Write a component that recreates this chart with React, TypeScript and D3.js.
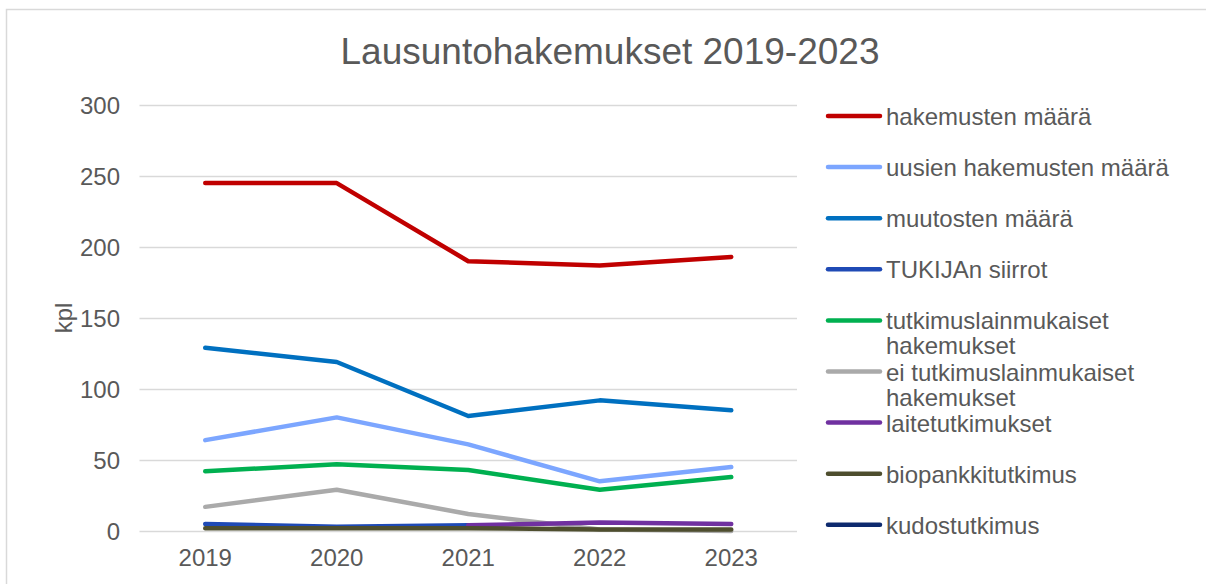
import React, { useEffect, useRef } from 'react';
import * as d3 from 'd3';

const years = ['2019', '2020', '2021', '2022', '2023'];
const yTicks = [0, 50, 100, 150, 200, 250, 300];

const seriesNames = [
  'hakemusten määrä',
  'uusien hakemusten määrä',
  'muutosten määrä',
  'TUKIJAn siirrot',
  'tutkimuslainmukaiset hakemukset',
  'ei tutkimuslainmukaiset hakemukset',
  'laitetutkimukset',
  'biopankkitutkimus',
  'kudostutkimus',
];
const seriesColors = [
  '#c00000', '#7ca6ff', '#0070c0', '#1f4ab5', '#00b050',
  '#aaaaaa', '#7030a0', '#4e4e2e', '#0e2a6e',
];

const hakemukset = [245, 245, 190, 187, 193];
const uudet = [64, 80, 61, 35, 45];
const muutokset = [129, 119, 81, 92, 85];
const tukija: (number | null)[] = [5, 3, 4, null, null];
const lainmukaiset = [42, 47, 43, 29, 38];
const eiLainmukaiset = [17, 29, 12, 1, 0];
const laite: (number | null)[] = [null, null, 4, 6, 5];
const biopankki = [2, 2, 2, 1, 1];
// kudostutkimus line is not visible in the chart
const kudos: (number | null)[] = [null, null, null, null, null];

const seriesValues = [
  hakemukset, uudet, muutokset, tukija, lainmukaiset,
  eiLainmukaiset, laite, biopankki, kudos,
];

const legendLines = [
  ['hakemusten määrä'],
  ['uusien hakemusten määrä'],
  ['muutosten määrä'],
  ['TUKIJAn siirrot'],
  ['tutkimuslainmukaiset', 'hakemukset'],
  ['ei tutkimuslainmukaiset', 'hakemukset'],
  ['laitetutkimukset'],
  ['biopankkitutkimus'],
  ['kudostutkimus'],
];

const W = 1206;
const H = 584;
const FONT = 'Liberation Sans, Arial, sans-serif';
const TEXT = '#595959';

export default function App() {
  const svgRef = useRef<SVGSVGElement>(null);

  useEffect(() => {
    if (!svgRef.current) return;
    const svg = d3.select(svgRef.current);
    svg.selectAll('*').remove();

    svg.append('rect')
      .attr('x', 6.5).attr('y', 9.5)
      .attr('width', W + 20).attr('height', H + 20)
      .attr('fill', '#fff').attr('stroke', '#d9d9d9').attr('stroke-width', 1.5);

    const plot = { left: 139.5, right: 797, top: 105, bottom: 531 };

    const x = d3.scaleBand().domain(years).range([plot.left, plot.right]);
    const y = d3.scaleLinear().domain([0, 300]).range([plot.bottom, plot.top]);

    // title
    svg.append('text')
      .attr('x', 610).attr('y', 64)
      .attr('text-anchor', 'middle')
      .attr('font-family', FONT).attr('font-size', 37)
      .attr('fill', TEXT)
      .text('Lausuntohakemukset 2019-2023');

    // grid
    svg.append('g').selectAll('line')
      .data(yTicks)
      .enter().append('line')
      .attr('x1', plot.left).attr('x2', plot.right)
      .attr('y1', d => Math.round(y(d)) + 0.5).attr('y2', d => Math.round(y(d)) + 0.5)
      .attr('stroke', '#d9d9d9').attr('stroke-width', 1.5);

    // y tick labels
    svg.append('g').selectAll('text')
      .data(yTicks)
      .enter().append('text')
      .attr('x', 120).attr('y', d => y(d) + 9)
      .attr('text-anchor', 'end')
      .attr('font-family', FONT).attr('font-size', 24)
      .attr('fill', TEXT)
      .text(d => d);

    // x tick labels
    svg.append('g').selectAll('text')
      .data(years)
      .enter().append('text')
      .attr('x', d => (x(d) as number) + x.bandwidth() / 2)
      .attr('y', 566)
      .attr('text-anchor', 'middle')
      .attr('font-family', FONT).attr('font-size', 24)
      .attr('fill', TEXT)
      .text(d => d);

    // axis title
    svg.append('text')
      .attr('transform', 'translate(72,318) rotate(-90)')
      .attr('text-anchor', 'middle')
      .attr('font-family', FONT).attr('font-size', 24)
      .attr('fill', TEXT)
      .text('kpl');

    const line = d3.line<number | null>()
      .defined(d => d !== null)
      .x((_, i) => (x(years[i]) as number) + x.bandwidth() / 2)
      .y(d => y(d as number));

    svg.append('g').selectAll('path')
      .data(seriesValues)
      .enter().append('path')
      .attr('d', d => line(d) ?? '')
      .attr('fill', 'none')
      .attr('stroke', (_, i) => seriesColors[i])
      .attr('stroke-width', 4.5)
      .attr('stroke-linejoin', 'round')
      .attr('stroke-linecap', 'round');

    // legend
    const legend = svg.append('g');
    seriesNames.forEach((name, i) => {
      const ly = 116 + i * 51.1;
      legend.append('line')
        .attr('x1', 828).attr('x2', 880)
        .attr('y1', ly).attr('y2', ly)
        .attr('stroke', seriesColors[i]).attr('stroke-width', 4.5)
        .attr('stroke-linecap', 'round');
      const t = legend.append('text')
        .attr('x', 886).attr('y', ly + 9)
        .attr('font-family', FONT).attr('font-size', 24)
        .attr('fill', TEXT);
      legendLines[i].forEach((s, j) => {
        t.append('tspan').attr('x', 886).attr('dy', j === 0 ? 0 : 25).text(s);
      });
    });
  }, []);

  return (
    <svg
      ref={svgRef}
      width={W}
      height={H}
      style={{ position: 'absolute', left: 0, top: 0, display: 'block', background: '#fff' }}
    />
  );
}
